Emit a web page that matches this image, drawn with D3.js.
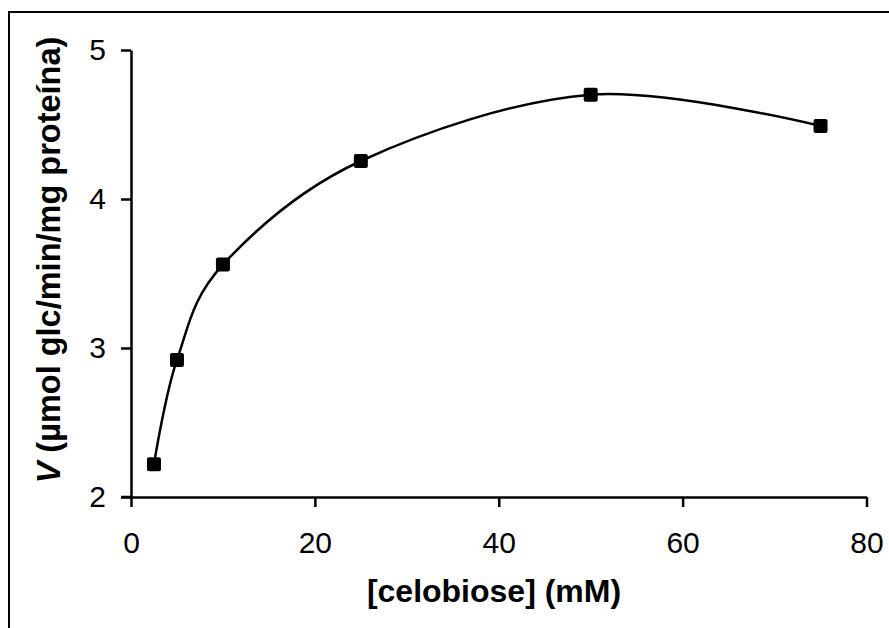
<!DOCTYPE html>
<html>
<head>
<meta charset="utf-8">
<script src="https://cdn.jsdelivr.net/npm/d3@7"></script>
<style>
  html, body { margin: 0; padding: 0; background: #fff; }
  svg { display: block; }
</style>
</head>
<body>
<svg id="chart" width="889" height="628"></svg>
<script>
const xValues = [2.5, 5, 10, 25, 50, 75];
const yValues = [2.22, 2.92, 3.56, 4.255, 4.70, 4.49];
const xTicks = [0, 20, 40, 60, 80];
const yTicks = [2, 3, 4, 5];
const xTitle = "[celobiose] (mM)";
const yTitleItalic = "V";
const yTitleRest = " (µmol glc/min/mg proteína)";

const svg = d3.select("#chart");
const font = "'Liberation Sans', Arial, sans-serif";

// outer frame
svg.append("rect")
  .attr("x", 9).attr("y", 12).attr("width", 900).attr("height", 700)
  .attr("fill", "none").attr("stroke", "#000").attr("stroke-width", 2);

const x = d3.scaleLinear().domain([0, 80]).range([131, 866.5]);
const y = d3.scaleLinear().domain([2, 5]).range([497, 50]);

// Y axis
const gy = svg.append("g").attr("transform", `translate(${x(0)},0)`)
  .call(d3.axisLeft(y).tickValues(yTicks).tickFormat(d3.format("d")).tickSize(10).tickPadding(15).tickSizeOuter(0));
// X axis
const gx = svg.append("g").attr("transform", `translate(0,${y(2)})`)
  .call(d3.axisBottom(x).tickValues(xTicks).tickFormat(d3.format("d")).tickSize(10).tickPadding(25).tickSizeOuter(0));

[gx, gy].forEach(g => {
  g.select(".domain").attr("stroke", "#000").attr("stroke-width", 2.5);
  g.selectAll(".tick line").attr("stroke", "#000").attr("stroke-width", 2.5);
  g.selectAll(".tick text").attr("fill", "#000")
    .style("font-family", font).style("font-size", "30px");
});
// extend x-axis line to the left to meet the y tick at 2
svg.append("line")
  .attr("x1", x(0) - 10).attr("x2", x(0)).attr("y1", y(2)).attr("y2", y(2))
  .attr("stroke", "#000").attr("stroke-width", 2.5);

// smoothed line
const pts = xValues.map((v, i) => [v, yValues[i]]);
const line = d3.line().x(d => x(d[0])).y(d => y(d[1])).curve(d3.curveCardinal.tension(0));
svg.append("path").attr("d", line(pts))
  .attr("fill", "none").attr("stroke", "#000").attr("stroke-width", 2.5);

// markers
const ms = 14;
svg.selectAll("rect.pt").data(pts).enter().append("rect")
  .attr("class", "pt")
  .attr("x", d => x(d[0]) - ms / 2).attr("y", d => y(d[1]) - ms / 2)
  .attr("width", ms).attr("height", ms).attr("rx", 2)
  .attr("fill", "#000");

// X title
svg.append("text")
  .attr("x", 494).attr("y", 602)
  .attr("text-anchor", "middle")
  .style("font-family", font).style("font-size", "32px").style("font-weight", "bold")
  .text(xTitle);

// Y title
const yt = svg.append("text")
  .attr("transform", "translate(60,260) rotate(-90)")
  .attr("text-anchor", "middle")
  .style("font-family", font).style("font-size", "32.5px").style("font-weight", "bold");
yt.append("tspan").style("font-style", "italic").text(yTitleItalic);
yt.append("tspan").text(yTitleRest);
</script>
</body>
</html>
